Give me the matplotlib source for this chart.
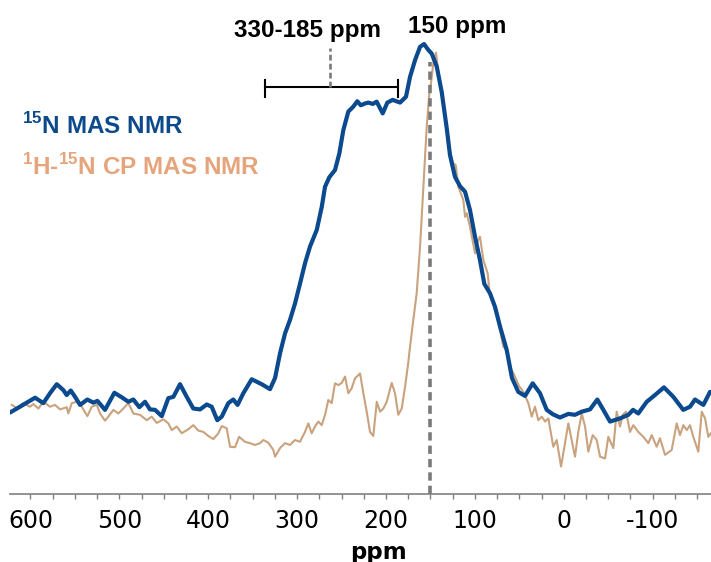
import numpy as np
from matplotlib import pyplot as plt

plt.rcParams['mathtext.fontset'] = 'custom'
plt.rcParams['mathtext.rm'] = 'Liberation Sans'
plt.rcParams['mathtext.bf'] = 'Liberation Sans:bold'

#%% Datos (ppm, intensidad relativa)
ppm_n15 = [623.0, 611.7, 604.2, 594.8, 585.5, 578.0, 570.4, 563.0, 559.2, 554.7,
           549.8, 544.2, 536.0, 529.2, 524.7, 516.1, 505.6, 497.3, 489.9, 484.2,
           477.5, 471.1, 465.5, 459.8, 452.3, 444.9, 439.2, 431.7, 424.2, 416.8,
           409.2, 401.7, 396.1, 389.8, 384.8, 377.4, 371.8, 367.0, 360.5, 351.1,
           339.8, 330.5, 324.8, 319.2, 313.6, 308.0, 302.3, 296.7, 291.1, 285.5,
           277.9, 272.3, 268.6, 263.8, 257.4, 252.5, 248.0, 242.4, 236.8, 232.3,
           228.4, 223.6, 219.9, 214.9, 210.5, 203.7, 198.5, 192.5, 184.2, 177.5,
           173.0, 167.4, 161.7, 157.2, 152.4, 148.6, 142.9, 137.3, 131.7, 128.0,
           122.4, 116.7, 111.1, 105.5, 99.9, 94.3, 89.4, 83.0, 77.4, 71.7,
           64.2, 58.3, 51.2, 43.6, 35.0, 26.8, 19.2, 12.1, 4.3, -5.1,
           -12.6, -20.2, -29.5, -37.7, -44.5, -52.0, -63.2, -72.6, -77.9, -83.8,
           -93.3, -102.6, -112.7, -123.2, -134.4, -142.0, -147.6, -157.0, -164.5]
int_n15 = [18.1, 19.4, 20.3, 21.4, 20.2, 22.4, 24.4, 23.1, 22.0, 23.0,
           21.6, 19.8, 21.0, 20.3, 20.7, 18.7, 22.5, 21.5, 20.5, 21.0,
           19.3, 20.5, 18.8, 18.7, 17.3, 21.3, 21.6, 24.4, 21.6, 19.0,
           18.8, 19.9, 19.4, 16.4, 17.2, 20.2, 21.0, 19.8, 22.4, 25.5,
           24.4, 23.3, 25.8, 31.3, 35.7, 38.7, 42.4, 46.8, 51.3, 55.0,
           58.7, 63.8, 68.3, 70.4, 72.0, 75.7, 80.9, 85.0, 86.1, 87.3,
           86.4, 86.8, 87.0, 86.7, 87.2, 84.6, 87.0, 87.6, 87.0, 88.3,
           92.7, 96.4, 99.4, 100.0, 98.7, 97.9, 95.0, 89.3, 81.3, 75.3,
           70.5, 68.4, 67.2, 63.1, 57.2, 52.0, 46.7, 44.6, 41.6, 37.2,
           32.0, 25.8, 22.7, 21.8, 24.6, 22.4, 18.7, 17.7, 17.0, 17.8,
           17.6, 18.3, 18.8, 21.0, 18.7, 16.1, 16.8, 17.6, 18.7, 17.9,
           20.5, 22.0, 23.7, 21.6, 18.7, 19.4, 21.0, 19.8, 22.7]

ppm_cp = [621.0, 615.4, 608.0, 600.5, 596.7, 591.1, 585.5, 578.0, 572.3, 566.7,
          559.2, 557.4, 553.5, 547.9, 542.3, 536.0, 531.0, 525.4, 521.7, 516.1,
          512.4, 506.7, 501.1, 495.5, 489.9, 484.2, 476.7, 469.2, 463.6, 457.9,
          450.5, 444.9, 441.1, 435.4, 429.8, 422.4, 416.8, 411.1, 405.5, 399.9,
          394.3, 388.6, 384.8, 379.2, 375.5, 369.8, 365.3, 358.6, 353.0, 347.4,
          341.7, 338.0, 332.4, 326.8, 324.8, 319.2, 313.6, 308.0, 302.3, 296.7,
          294.8, 291.1, 287.4, 283.6, 279.9, 276.1, 272.3, 268.6, 264.9, 261.1,
          257.4, 253.6, 249.8, 246.1, 242.4, 238.6, 234.9, 229.2, 225.5, 221.7,
          218.0, 214.3, 210.4, 206.7, 203.0, 199.2, 193.6, 189.9, 186.2, 182.3,
          178.6, 174.9, 173.0, 169.3, 165.5, 161.7, 158.0, 154.2, 151.3, 149.4,
          146.6, 143.7, 140.9, 137.3, 133.6, 129.9, 124.3, 121.6, 118.6, 113.0,
          111.1, 109.2, 105.5, 99.9, 96.5, 94.3, 90.5, 85.6, 83.8, 77.4,
          71.7, 68.0, 64.2, 60.5, 54.9, 50.4, 45.5, 39.9, 36.1, 32.4,
          28.7, 24.8, 21.1, 17.4, 11.8, 8.0, 3.1, -1.4, -5.1, -8.9,
          -12.6, -16.3, -20.2, -23.9, -27.6, -32.5, -37.0, -40.8, -46.4, -50.1,
          -55.7, -59.5, -63.2, -66.3, -70.0, -74.5, -78.2, -83.8, -89.5, -95.1,
          -98.9, -104.5, -108.2, -113.9, -121.4, -127.0, -130.7, -134.5, -138.3, -142.0,
          -145.7, -151.3, -155.2, -158.9, -162.6, -165.6]
int_cp = [19.8, 19.1, 20.2, 19.4, 20.0, 19.0, 20.5, 19.4, 19.8, 18.8,
          19.3, 17.9, 20.2, 20.5, 19.4, 17.3, 19.4, 19.8, 17.9, 16.3,
          17.2, 18.7, 17.9, 19.0, 20.2, 17.9, 17.6, 16.4, 17.2, 15.8,
          16.6, 15.7, 14.2, 15.0, 13.5, 14.4, 15.3, 14.1, 13.8, 12.9,
          12.2, 13.5, 15.1, 14.6, 10.5, 10.4, 12.7, 11.6, 11.3, 10.9,
          11.3, 12.0, 11.4, 9.8, 8.3, 10.2, 11.3, 10.9, 12.0, 11.6,
          12.4, 13.8, 15.7, 13.5, 15.0, 16.1, 15.3, 17.6, 20.9, 20.2,
          24.6, 24.2, 24.7, 26.1, 22.4, 23.5, 25.7, 26.8, 22.4, 18.3,
          13.8, 12.9, 20.5, 18.3, 19.0, 20.5, 24.7, 22.4, 17.6, 19.0,
          23.8, 29.3, 32.7, 38.7, 44.6, 55.0, 68.3, 81.6, 89.0, 91.3,
          96.0, 98.1, 93.1, 89.0, 83.8, 77.2, 73.5, 73.1, 68.3, 65.3,
          61.6, 62.4, 59.4, 53.5, 56.4, 57.2, 52.0, 49.0, 45.3, 41.6,
          36.4, 32.7, 32.0, 28.3, 26.1, 24.0, 22.7, 20.2, 17.2, 19.4,
          16.4, 17.2, 16.1, 16.8, 10.5, 12.0, 6.1, 11.3, 15.7, 12.0,
          8.3, 13.8, 17.9, 15.0, 9.4, 13.1, 12.0, 8.3, 7.9, 12.7,
          10.2, 18.3, 15.0, 17.6, 18.3, 13.8, 15.3, 13.8, 12.7, 11.3,
          13.1, 10.5, 12.4, 8.7, 9.8, 15.7, 13.1, 15.3, 14.2, 15.3,
          12.7, 9.4, 18.3, 16.8, 12.7, 13.5]

pico = 150                    # ppm de la linea de trazos
rango = (336, 186.6)          # corchete 330-185 ppm
rango_centro = 262.8
ticks_major = [600, 500, 400, 300, 200, 100, 0, -100]

#%% Grafico
fig = plt.figure(figsize=(7.11, 5.62), dpi=100)
ax = fig.add_axes([10 / 711, 68 / 562, 701 / 711, 494 / 562])

ax.plot(ppm_cp, int_cp, color='#c9a27e', lw=1.5, zorder=2)
ax.plot(ppm_n15, int_n15, color='#0b4a8e', lw=3.0, zorder=3,
        solid_joinstyle='round', solid_capstyle='round')

# linea de trazos en 150 ppm
ax.vlines(pico, 0, 96, colors='#7a7a7a', lw=2.6, linestyles=(0, (2.3, 1.4)), zorder=4)

# corchete del rango
ax.plot([rango[0], rango[1]], [90.4, 90.4], color='black', lw=1.5)
ax.plot([rango[0], rango[0]], [88.2, 92.0], color='black', lw=1.5)
ax.plot([rango[1], rango[1]], [88.2, 92.0], color='black', lw=1.5)
ax.vlines(rango_centro, 90.4, 99.1, colors='#7a7a7a', lw=1.9, linestyles=(0, (2.2, 1.2)))

ax.set_xlim(623, -165.6)
ax.set_ylim(0, 109.8)
ax.set_xticks(ticks_major)
ax.set_xticks(np.arange(-150, 625, 25), minor=True)
ax.set_xticklabels([str(t) for t in ticks_major], fontsize=17, family='DejaVu Sans')
ax.tick_params(axis='x', which='both', direction='out', length=3.5, width=1,
               color='#808080', pad=7)
ax.set_yticks([])
for lado in ['left', 'top', 'right']:
    ax.spines[lado].set_visible(False)
ax.spines['bottom'].set_color('#808080')
ax.spines['bottom'].set_linewidth(1.2)

# textos
fig.text(378 / 711, 1 - 552 / 562, 'ppm', ha='center', va='center',
         fontsize=16.5, fontweight='bold', family='DejaVu Sans')
fig.text(307.5 / 711, 1 - 30 / 562, '330-185 ppm', ha='center', va='center',
         fontsize=17.5, fontweight='bold', family='Liberation Sans')
fig.text(457 / 711, 1 - 27 / 562, '150 ppm', ha='center', va='center',
         fontsize=17.5, fontweight='bold', family='Liberation Sans')
fig.text(22 / 711, 1 - 133.5 / 562, r'$^{\mathbf{15}}$N MAS NMR', ha='left', va='baseline',
         fontsize=17.5, fontweight='bold', family='Liberation Sans', color='#0d4a8b')
fig.text(22 / 711, 1 - 175 / 562, r'$^{\mathbf{1}}$H-$^{\mathbf{15}}$N CP MAS NMR', ha='left',
         va='baseline', fontsize=17.5, fontweight='bold', family='Liberation Sans',
         color='#e5a47b')

plt.savefig('out.png', dpi=100)
